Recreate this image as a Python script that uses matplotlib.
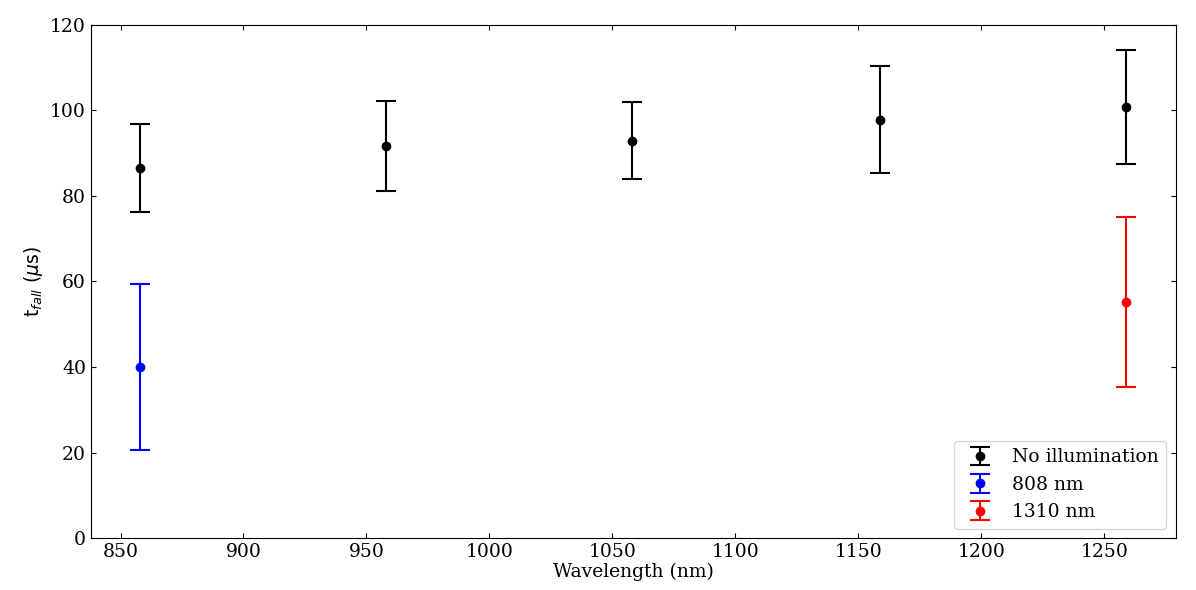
import matplotlib
matplotlib.use("Agg")
import matplotlib.pyplot as plt

# wavelengths (nm) and fall times (us)
wl_dark = [858, 958, 1058, 1159, 1259]
t_dark = [86.5, 91.6, 92.9, 97.8, 100.8]
err_dark = [10.3, 10.5, 9.0, 12.5, 13.3]

wl_808 = [858]
t_808 = [40.0]
err_808 = [19.5]

wl_1310 = [1259]
t_1310 = [55.2]
err_1310 = [19.8]

plt.rcParams["font.family"] = "DejaVu Serif"
plt.rcParams["mathtext.fontset"] = "dejavusans"

fig = plt.figure(figsize=(11.96, 5.9), dpi=100)
ax = fig.add_axes([0.076, 0.088, 0.907, 0.870])

ax.errorbar(wl_dark, t_dark, yerr=err_dark, fmt="o", color="k", ms=6,
            capsize=7, elinewidth=1.5, capthick=1.5, label="No illumination")
ax.errorbar(wl_808, t_808, yerr=err_808, fmt="o", color="b", ms=6,
            capsize=7, elinewidth=1.5, capthick=1.5, label="808 nm")
ax.errorbar(wl_1310, t_1310, yerr=err_1310, fmt="o", color="r", ms=6,
            capsize=7, elinewidth=1.5, capthick=1.5, label="1310 nm")

ax.set_ylim(0, 120)
ax.set_xticks([850, 900, 950, 1000, 1050, 1100, 1150, 1200, 1250])
ax.tick_params(direction="in", top=True, right=True, labelsize=13.5)
ax.set_xlabel("Wavelength (nm)", fontsize=13.5, labelpad=1)
ax.set_ylabel(r"t$_{fall}$ ($\mu$s)", fontsize=13.5, family="DejaVu Sans")
ax.legend(loc="lower right", fontsize=13.5, handletextpad=0.7)

fig.savefig("out.png", dpi=100)
